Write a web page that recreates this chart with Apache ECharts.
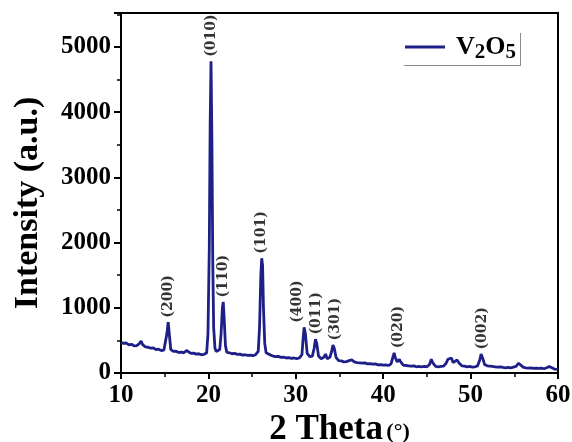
<!DOCTYPE html>
<html>
<head>
<meta charset="utf-8">
<script src="https://cdn.jsdelivr.net/npm/echarts@6/dist/echarts.min.js"></script>
<style>html,body{margin:0;padding:0;background:#fff}#c{width:572px;height:442px}</style>
</head>
<body>
<div id="c"></div>
<script>
const theta = [
10.0,10.3,10.6,10.9,11.2,11.5,11.8,12.1,12.3,12.5,
12.8,13.1,13.4,13.7,14.0,14.3,14.6,14.9,15.1,15.25,
15.4,15.55,15.7,16.0,16.3,16.6,16.9,17.2,17.5,17.7,
18.0,18.3,18.6,18.9,19.2,19.5,19.8,19.95,20.1,20.2,
20.3,20.4,20.5,20.6,20.75,20.9,21.1,21.3,21.45,21.6,
21.7,21.8,21.95,22.1,22.4,22.7,23.0,23.3,23.6,23.9,
24.2,24.5,24.8,25.1,25.4,25.7,25.85,26.0,26.1,26.2,
26.3,26.45,26.6,26.8,27.1,27.4,27.7,28.0,28.3,28.6,
28.9,29.2,29.5,29.8,30.1,30.4,30.7,30.85,30.95,31.1,
31.3,31.6,31.9,32.1,32.25,32.4,32.6,32.9,33.2,33.4,
33.6,33.9,34.1,34.25,34.4,34.6,34.9,35.2,35.5,35.8,
36.1,36.4,36.7,37.0,37.3,37.6,37.9,38.2,38.5,38.8,
39.1,39.4,39.7,40.0,40.3,40.6,40.9,41.1,41.25,41.4,
41.6,41.85,42.0,42.3,42.6,42.9,43.2,43.5,43.8,44.1,
44.4,44.7,45.0,45.3,45.5,45.7,46.0,46.3,46.6,46.9,
47.2,47.4,47.6,47.8,48.0,48.2,48.45,48.7,49.0,49.3,
49.6,49.9,50.2,50.5,50.8,51.05,51.2,51.4,51.6,51.9,
52.2,52.5,52.8,53.1,53.4,53.7,54.0,54.3,54.6,54.9,
55.2,55.5,55.7,56.0,56.3,56.6,56.9,57.2,57.5,57.8,
58.1,58.4,58.7,59.0,59.3,59.6,60.0
];
const intensity = [
470,455,460,430,440,415,420,450,490,430,
400,395,380,385,360,365,345,350,380,600,
780,560,360,330,335,315,320,310,345,335,
300,305,290,295,280,285,310,600,1900,3800,
4780,3600,1700,700,380,330,340,360,600,1000,
1090,850,420,320,310,295,300,285,290,275,
280,270,275,265,280,330,700,1500,1760,1650,
1000,450,310,290,275,260,250,255,240,245,
230,235,225,230,220,230,280,550,700,600,
300,250,260,380,520,450,260,220,240,290,
220,240,330,430,380,240,190,185,170,175,
190,200,170,160,155,150,155,140,145,135,
140,125,130,120,125,115,140,240,310,230,
170,210,170,120,115,110,105,110,95,100,
95,100,95,130,210,150,100,95,100,105,
150,210,190,230,160,130,200,150,110,105,
95,100,90,95,110,200,290,220,130,110,
105,100,95,90,95,85,80,85,80,90,
100,150,130,90,80,75,80,70,75,70,
75,65,80,100,80,60,55
];
const peakLabels = ['(200)','(010)','(110)','(101)','(400)','(011)','(301)','(020)','(002)'];
const peakTheta = [15.4,20.3,21.7,26.1,30.15,32.4,34.5,41.7,51.4];
const peakIntensity = [780,4780,1090,1760,700,520,430,310,290];
const xTicks = [10,20,30,40,50,60];
const yTicks = [0,1000,2000,3000,4000,5000];

const lineColor = '#1e2088';
const serif = 'Liberation Serif';
const chart = echarts.init(document.getElementById('c'), null, {renderer:'canvas'});
chart.setOption({
  animation:false,
  backgroundColor:'#fff',
  grid:{left:121,right:14,top:13,bottom:69,outerBoundsMode:'none',containLabel:false,
    show:true,borderColor:'#000',borderWidth:2,backgroundColor:'transparent'},
  legend:{
    left:403, top:32, icon:'rect', itemWidth:40, itemHeight:3,
    padding:[2,4,2,2],
    backgroundColor:'#fff',
    shadowColor:'rgba(0,0,0,0.45)', shadowOffsetX:1, shadowOffsetY:1, shadowBlur:0,
    formatter:function(){return '{v|V}{s|2}{n|O}{s|5}';},
    textStyle:{rich:{
      v:{fontFamily:serif,fontWeight:'bold',fontSize:26,color:'#000',lineHeight:32,verticalAlign:'middle',padding:[0,0,0,6]},
      n:{fontFamily:serif,fontWeight:'bold',fontSize:26,color:'#000',lineHeight:32,verticalAlign:'middle'},
      s:{fontFamily:serif,fontWeight:'bold',fontSize:21,color:'#000',lineHeight:26,verticalAlign:'bottom'}
    }},
    data:['V2O5']
  },
  xAxis:{
    type:'value', min:xTicks[0], max:xTicks[xTicks.length-1], interval:10,
    name:'{a|2 Theta} {b|(°)}', nameLocation:'middle', nameGap:35,
    nameTextStyle:{rich:{
      a:{fontFamily:serif,fontWeight:'bold',fontSize:35,color:'#000',lineHeight:40,verticalAlign:'middle'},
      b:{fontFamily:serif,fontWeight:'bold',fontSize:22,color:'#000',lineHeight:26,verticalAlign:'middle',padding:[4,0,0,0]}
    }},
    axisLine:{lineStyle:{color:'#000',width:2}},
    axisTick:{show:true,length:6,lineStyle:{color:'#000',width:2}},
    minorTick:{show:true,splitNumber:2,length:4,lineStyle:{color:'#000',width:1.5}},
    axisLabel:{fontFamily:serif,fontWeight:'bold',fontSize:25,color:'#000',margin:10},
    splitLine:{show:false}
  },
  yAxis:{
    type:'value', min:yTicks[0], max:5520, interval:1000,
    name:'Intensity (a.u.)', nameLocation:'middle', nameGap:76,
    nameTextStyle:{fontFamily:serif,fontWeight:'bold',fontSize:34,color:'#000',padding:[0,0,0,-20]},
    axisLine:{lineStyle:{color:'#000',width:2}},
    axisTick:{show:true,length:7,lineStyle:{color:'#000',width:2}},
    minorTick:{show:true,splitNumber:2,length:4,lineStyle:{color:'#000',width:1.5}},
    axisLabel:{fontFamily:serif,fontWeight:'bold',fontSize:25,color:'#000',margin:10,showMaxLabel:false,
      formatter:function(v){return String(v);}},
    splitLine:{show:false}
  },
  series:[
    {
      name:'V2O5', type:'line', showSymbol:false, symbol:'none',
      data:theta.map((t,i)=>[t,intensity[i]]),
      lineStyle:{color:lineColor,width:2.8},
      itemStyle:{color:lineColor}
    },
    {
      type:'scatter', symbolSize:1, itemStyle:{color:'rgba(0,0,0,0)'},
      data:peakLabels.map((n,i)=>({name:n,value:[peakTheta[i],peakIntensity[i]]})),
      label:{show:true,position:'top',distance:4,rotate:90,align:'left',verticalAlign:'middle',
        formatter:'{b}',fontFamily:'DejaVu Serif',fontWeight:'bold',fontSize:14,color:'#000'}
    }
  ]
});
</script>
</body>
</html>
